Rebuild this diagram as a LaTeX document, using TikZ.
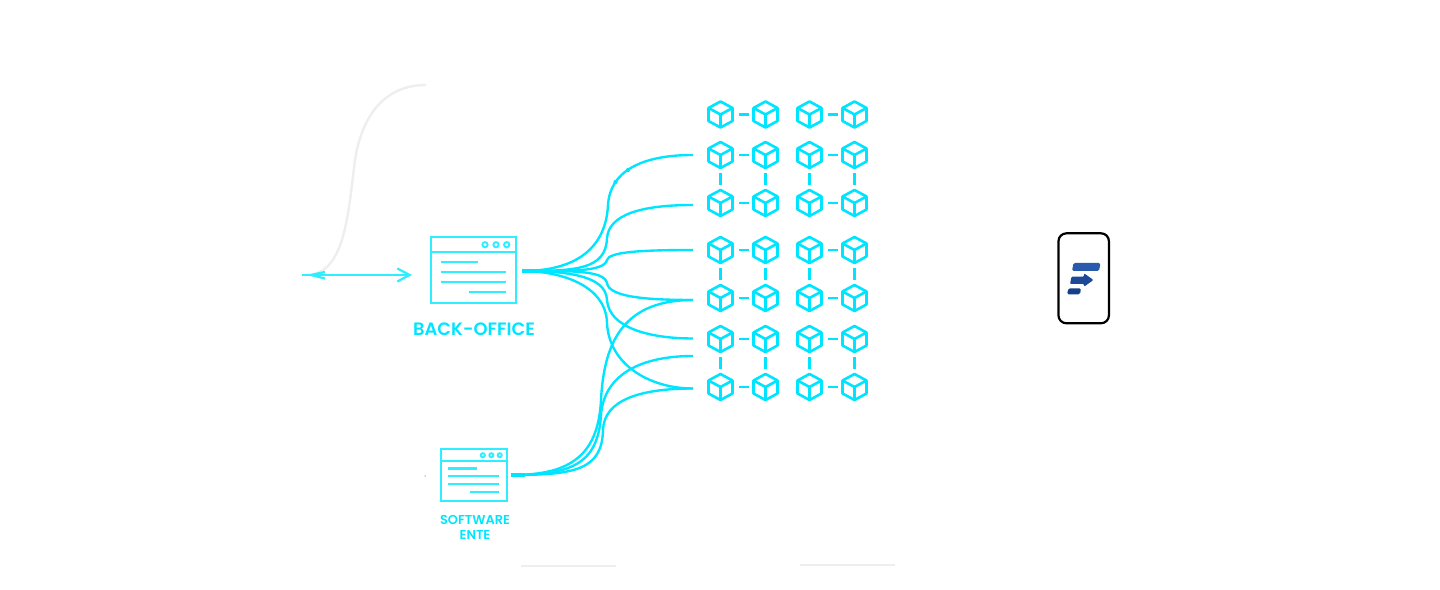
\documentclass[tikz,border=0pt]{standalone}
\usepackage{fontspec}
\usepackage{xcolor}
\usepackage{tikz}
\usetikzlibrary{positioning,arrows.meta,calc}
\setmainfont{Poppins}
\newfontfamily\tagfont{Poppins SemiBold}
\definecolor{flowcyan}{HTML}{00E5FF}
\definecolor{wincyan}{HTML}{2EEEFF}
\definecolor{fadegray}{HTML}{EEEEEE}
\tikzset{
  flow/.style={flowcyan, line width=1.35pt},
  hop/.style={flowcyan, line width=1.5pt},
  winbox/.style={rectangle, draw=wincyan, line width=1.25pt, inner sep=0pt},
  cubenode/.style={circle, minimum size=0.72cm, inner sep=0pt},
  tag/.style={text=flowcyan, align=center, inner sep=0pt},
  window/.pic={
    \draw[wincyan, line width=1.25pt] (-42.65,-18.6) -- (42.65,-18.6);
    \foreach \x in {11.65,22.65,33.35} {
      \draw[wincyan, line width=1.1pt] (\x,-25.6) circle (2.6);
    }
    \draw[wincyan, line width=1.25pt] (-32.35,-8.6) -- (4.65,-8.6);
    \draw[wincyan, line width=1.25pt] (-32.35,1.4) -- (32.65,1.4);
    \draw[wincyan, line width=1.25pt] (-32.35,11.4) -- (32.65,11.4);
    \draw[wincyan, line width=1.25pt] (-4.35,21.4) -- (32.65,21.4);
  },
  cube/.pic={
    \draw[flowcyan, line width=1.5pt, line join=round]
      (0,-13) -- (12,-6.5) -- (12,6.5) -- (0,13) -- (-12,6.5) -- (-12,-6.5) -- cycle
      (-12,-6.5) -- (0,0) -- (12,-6.5) (0,0) -- (0,13);
  }
}

\begin{document}
\begin{tikzpicture}[x=0.02cm,y=-0.02cm]
        \useasboundingbox (0,0) rectangle (1440,590);

        % Faded line on the left
        \coordinate (FadeA) at (426,85);
        \coordinate (FadeB) at (310,275);
        \draw[fadegray, line width=1.4pt] (FadeA) .. controls (385,85) and (362,115) .. (355,160) .. controls (348,215) and (345,270) .. (FadeB);

        % Windows
        \node[winbox, minimum width=1.706cm, minimum height=1.32cm] (BO) at (473.35,270.3) {};
        \pic at (BO) {window};
        \node[tag, font=\fontsize{10.2pt}{12pt}\tagfont] (BOtag) at (474,329) {BACK-OFFICE};

        \node[winbox, minimum width=1.32cm, minimum height=1.034cm] (SW) at (473.7,475.2) {};
        \pic[scale=0.78] at (SW) {window};
        \node[tag, font=\fontsize{7.35pt}{8.6pt}\tagfont] (SWtag) at (475,527.5) {SOFTWARE\\ENTE};

        % Incoming arrow
        \coordinate (InA) at (302,275);
        \coordinate (InB) at (412,275);
        \draw[wincyan, line width=1.3pt, -{Straight Barb[length=7pt, width=7.5pt, line width=1.3pt]}] (InA) -- (InB);
        \coordinate (BackA) at (325,272);
        \coordinate (BackB) at (311,275);
        \coordinate (BackC) at (325,278.5);
        \draw[wincyan, line width=1.3pt] (BackA) -- (BackB) -- (BackC);

        % Grid of cubes
        \foreach \r/\y in {1/114.5, 2/155, 3/203, 4/250, 5/298, 6/339, 7/387} {
          \foreach \c/\x in {1/720.5, 2/765.5, 3/809.5, 4/854.5} {
            \node[cubenode] (C\r\c) at (\x,\y) {};
            \pic at (C\r\c) {cube};
          }
          \draw[hop, shorten >=-0.03cm] (C\r1) -- (C\r2);
          \draw[hop, shorten >=-0.03cm] (C\r3) -- (C\r4);
        }
        \foreach \a/\b in {2/3, 4/5, 6/7} {
          \foreach \c in {1,2,3,4} {
            \draw[hop] (C\a\c) -- (C\b\c);
          }
        }

        % Curve ends next to the grid
        \coordinate (BOout) at (522,271);
        \coordinate (SWout) at (511,475);
        \foreach \n/\y in {1/155, 2/205, 3/250, 4/300, 5/338.5, 6/356, 7/388.5} {
          \coordinate (E\n) at (693,\y);
        }

        % Curves out of the back-office
        \draw[flow] (BOout) .. controls (580,271) and (606,245) .. (608,205) .. controls (610,172) and (640,155) .. (E1);
        \draw[flow] (BOout) .. controls (575,271) and (606,270) .. (607,238) .. controls (609,215) and (640,205) .. (E2);
        \draw[flow] (BOout) .. controls (570,271) and (604,272) .. (607,260) .. controls (609,252) and (640,250) .. (E3);
        \draw[flow] (BOout) .. controls (570,271) and (604,270) .. (607,283) .. controls (609,296) and (640,300) .. (E4);
        \draw[flow] (BOout) .. controls (565,271) and (606,275) .. (607,300) .. controls (609,328) and (650,338.5) .. (E5);
        \draw[flow] (BOout) .. controls (560,271) and (606,285) .. (607,323) .. controls (609,365) and (650,388.5) .. (E7);
        \draw[flowcyan, line width=2pt] (BOout) -- ++(14,0);

        % Small marks on the top curve
        \node[circle, fill=flowcyan, inner sep=0pt, minimum size=0.085cm] (MarkA) at (615.5,182) {};
        \node[circle, fill=flowcyan, inner sep=0pt, minimum size=0.085cm] (MarkB) at (628,170) {};

        % Curves out of the software
        \draw[flow] (SWout) .. controls (565,475) and (598,460) .. (601,400) .. controls (604,340) and (625,300) .. (E4);
        \draw[flow] (SWout) .. controls (570,475) and (598,465) .. (601,415) .. controls (604,375) and (640,356) .. (E6);
        \draw[flow] (SWout) .. controls (575,475) and (602,470) .. (603,430) .. controls (604,400) and (640,388.5) .. (E7);
        \draw[flowcyan, line width=2pt] (SWout) -- ++(14,0);

        % Tiny dot and bottom lines
        \node[circle, fill=gray!70, inner sep=0pt, minimum size=0.03cm] (Dot) at (425,476) {};
        \coordinate (BarA) at (521,566);
        \coordinate (BarB) at (616,566);
        \coordinate (BarC) at (800,565);
        \coordinate (BarD) at (895,565);
        \draw[fadegray, line width=1.6pt] (BarA) -- (BarB);
        \draw[fadegray, line width=1.6pt] (BarC) -- (BarD);

        % Phone with logo
        \node[rectangle, draw=black, line width=1.25pt, rounded corners=0.16cm, minimum width=1.01cm, minimum height=1.8cm, inner sep=0pt] (Phone) at (1083.7,278.3) {};
        \fill[rounded corners=0.03cm, fill={rgb,255:red,42;green,90;blue,171}] (1073.5,263) -- (1100.5,263) -- (1099,271) -- (1072,271) -- cycle;
        \fill[rounded corners=0.02cm, fill={rgb,255:red,28;green,74;blue,150}] (1071.5,276.7) -- (1084,276.7) -- (1084,273.3) -- (1093.5,280) -- (1084,286.7) -- (1084,284) -- (1070,284) -- cycle;
        \fill[rounded corners=0.03cm, fill={rgb,255:red,21;green,63;blue,136}] (1068.5,288.3) -- (1081,288.3) -- (1080,294.3) -- (1067,294.3) -- cycle;
      \end{tikzpicture}
\end{document}
